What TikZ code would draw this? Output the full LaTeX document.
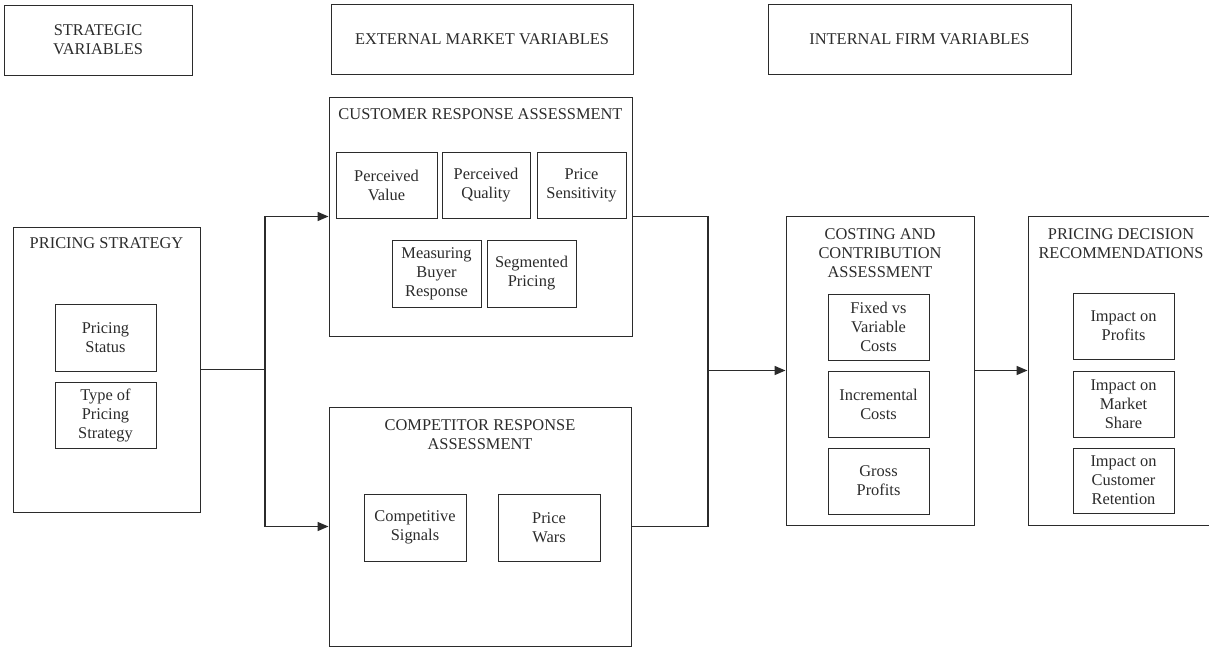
\documentclass[tikz,border=0pt]{standalone}
\usepackage{fontspec}
\setmainfont{Liberation Serif}
\usetikzlibrary{arrows.meta}
\definecolor{ink}{HTML}{2B2B2B}
\begin{document}
\begin{tikzpicture}[x=1pt,y=-1pt,
  every node/.style={text=ink,font=\fontsize{16.4}{19}\selectfont},
  frame/.style={draw=ink,line width=0.95pt,inner sep=0pt,align=center,
    minimum width=#1},
  title/.style={inner sep=0pt,align=center,anchor=north},
  link/.style={draw=ink,line width=1.5pt},
  tolink/.style={link,-{Triangle[length=11pt,width=9pt]}}]
\useasboundingbox (0,0) rectangle (1209,647);
\clip (0,0) rectangle (1209,647);

% column headings
\node[frame=188pt,minimum height=70pt] (sv) at (98,40) {STRATEGIC\\VARIABLES};
\node[frame=302pt,minimum height=70pt] (emv) at (482,39) {EXTERNAL MARKET VARIABLES};
\node[frame=303pt,minimum height=70pt] (ifv) at (919.5,39) {INTERNAL FIRM VARIABLES};

% pricing strategy
\node[frame=187pt,minimum height=285pt] (ps) at (106.5,369.5) {};
\node[title] (pst) at (106.5,237) {PRICING STRATEGY};
\node[frame=101pt,minimum height=67pt] (pstat) at (105.5,337.5) {Pricing\\Status};
\node[frame=101pt,minimum height=66pt] (ptype) at (105.5,415) {Type of\\Pricing\\Strategy};

% customer response assessment
\node[frame=303pt,minimum height=239pt] (cra) at (480.5,216.5) {};
\node[title] (crat) at (480.5,108) {CUSTOMER RESPONSE ASSESSMENT};
\node[frame=101pt,minimum height=66pt] (pv) at (386.5,185) {Perceived\\Value};
\node[frame=88pt,minimum height=66pt] (pq) at (486,185) {Perceived\\Quality};
\node[frame=89pt,minimum height=66pt] (psen) at (581.5,185) {Price\\Sensitivity};
\node[frame=89pt,minimum height=67pt] (mbr) at (436.5,273.5) {Measuring\\Buyer\\Response};
\node[frame=89pt,minimum height=67pt] (segp) at (531.5,273.5) {Segmented\\Pricing};

% competitor response assessment
\node[frame=302pt,minimum height=239pt] (comp) at (480,526.5) {};
\node[title] (compt) at (480,419) {COMPETITOR RESPONSE\\ASSESSMENT};
\node[frame=102pt,minimum height=67pt] (cs) at (415,527.5) {Competitive\\Signals};
\node[frame=102pt,minimum height=67pt] (pw) at (549,527.5) {Price\\Wars};

% costing and contribution assessment
\node[frame=188pt,minimum height=309pt] (cca) at (880,370.5) {};
\node[title] (ccat) at (880,228) {COSTING AND\\CONTRIBUTION\\ASSESSMENT};
\node[frame=101pt,minimum height=66pt] (fvc) at (878.5,327) {Fixed vs\\Variable\\Costs};
\node[frame=101pt,minimum height=66pt] (ic) at (878.5,404) {Incremental\\Costs};
\node[frame=101pt,minimum height=66pt] (gp) at (878.5,481) {Gross\\Profits};

% pricing decision recommendations
\node[frame=186pt,minimum height=309pt] (pdr) at (1121,370.5) {};
\node[title] (pdrt) at (1121,228) {PRICING DECISION\\RECOMMENDATIONS};
\node[frame=101pt,minimum height=66pt] (ip) at (1123.5,326) {Impact on\\Profits};
\node[frame=101pt,minimum height=66pt] (ims) at (1123.5,404) {Impact on\\Market\\Share};
\node[frame=101pt,minimum height=65pt] (icr) at (1123.5,480.5) {Impact on\\Customer\\Retention};

% connectors
\coordinate (split) at (265,369.5);
\coordinate (merge) at (708,370.5);
\draw[link] (ps.east) -- (split);
\draw[tolink] (split) |- (cra.west);
\draw[tolink] (split) |- (comp.west);
\draw[link] (cra.east) -| (merge);
\draw[link] (comp.east) -| (merge);
\draw[tolink] (merge) -- (cca.west);
\draw[tolink] (cca.east) -- (pdr.west);
\end{tikzpicture}
\end{document}
